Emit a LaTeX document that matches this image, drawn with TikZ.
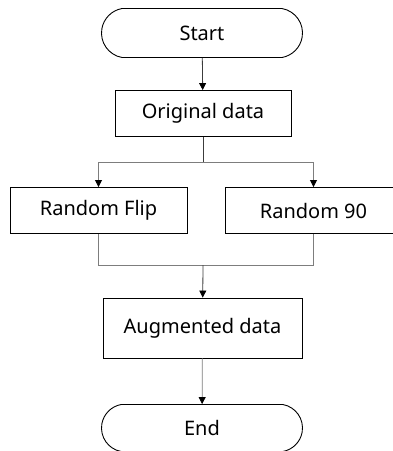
\documentclass[tikz,border=0pt]{standalone}
\usepackage{fontspec}
\setmainfont{Noto Sans}
\usetikzlibrary{shapes.misc,arrows.meta,positioning}
\definecolor{flowgray}{RGB}{125,125,125}
\definecolor{flowdark}{RGB}{60,60,60}
\tikzset{
  terminal/.style={draw, rounded rectangle, rounded rectangle arc length=160,
    minimum width=201pt, minimum height=49pt, inner sep=0pt, font=\fontsize{20}{22}\selectfont},
  process/.style={draw, rectangle, minimum height=46pt, inner sep=0pt,
    font=\fontsize{20}{22}\selectfont},
  flow/.style={line width=0.8pt, -{Triangle[length=7pt,width=7pt,color=black]}},
}

\begin{document}
\begin{tikzpicture}[x=1pt,y=1pt,line width=0.9pt]
\useasboundingbox (0,0) rectangle (393,-451);
% Start / End
\node[terminal] (start) at (202,-33) {Start};
\node[terminal, minimum height=47pt] (endn) at (202,-428) {End};

% processing steps
\node[process, minimum width=176pt] (orig) at (203,-113.5) {Original data};
\node[process, minimum width=177pt] (flip) at (98.5,-210.5) {Random Flip};
\node[process, minimum width=177pt] (rot) at (313.5,-210.5) {Random 90};
\node[process, minimum width=199pt, minimum height=60pt] (aug) at (202.5,-328) {Augmented data};

\coordinate (split) at (203,-162);
\coordinate (merge) at (203,-265);

% connectors
\draw[flow, flowdark] (start) -- (orig);
\draw[line width=0.8pt, flowdark] (orig) -- (split);
\draw[flow, flowgray] (split) -| (flip);
\draw[flow, flowgray] (split) -| (rot);
\draw[line width=0.8pt, flowgray] (flip) |- (merge);
\draw[line width=0.8pt, flowgray] (rot) |- (merge);
\draw[flow, flowdark] (merge) -- (aug);
\draw[flow, flowgray] (aug) -- (endn);
\end{tikzpicture}
\end{document}
